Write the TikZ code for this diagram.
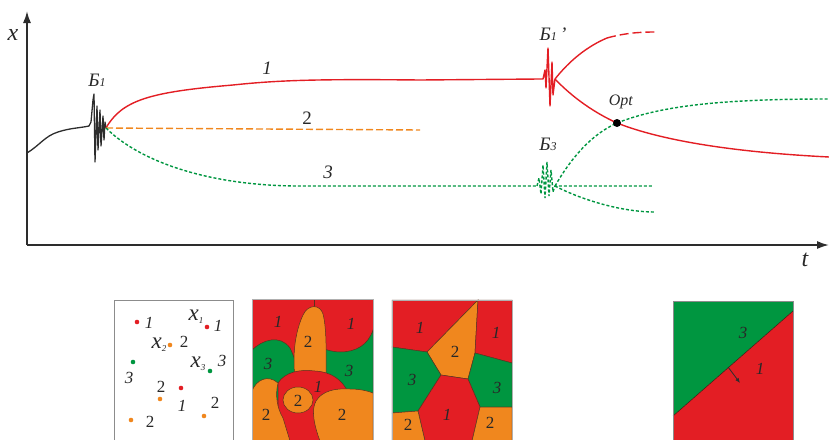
\documentclass[tikz,border=0pt]{standalone}
\usepackage{fontspec}
\setmainfont{Liberation Serif}
\usetikzlibrary{arrows.meta}
\definecolor{myred}{RGB}{227,30,36}
\definecolor{mygreen}{RGB}{0,150,64}
\definecolor{myorange}{RGB}{240,135,30}
\definecolor{axisgray}{RGB}{45,45,45}
\definecolor{txt}{RGB}{40,40,40}
\definecolor{frame}{RGB}{140,140,140}
\definecolor{edge}{RGB}{90,50,30}
\tikzset{
  axis/.style={line width=1.7pt, draw=axisgray, -{Latex[length=12pt,width=8pt]}},
  curveK/.style={draw=axisgray, line width=1.3pt, line join=round},
  curveR/.style={draw=myred, line width=1.4pt, line join=round},
  curveO/.style={draw=myorange, line width=1.4pt, dash pattern=on 7pt off 3pt},
  curveG/.style={draw=mygreen, line width=1.4pt, dash pattern=on 3pt off 2pt},
  lbl/.style={text=txt, inner sep=0pt, font=\fontsize{19}{19}\selectfont},
  plbl/.style={text=txt, inner sep=0pt, font=\fontsize{17}{17}\selectfont},
  panel/.style={draw=frame, line width=0.9pt},
  region/.style={draw=edge, line width=0.5pt},
}
\newcommand{\Bsub}[1]{\textit{Б}{\fontsize{12}{12}\selectfont\textit{#1}}}
\newcommand{\xsub}[1]{{\fontsize{23}{23}\selectfont\textit{x}}{\fontsize{9}{9}\selectfont\raisebox{-3pt}{\textit{#1}}}}
\begin{document}
\begin{tikzpicture}[x=1pt,y=-1pt]
\useasboundingbox (0,0) rectangle (829,439);
% ---------- graph ----------
\coordinate (O) at (27,245);
\coordinate (Ytip) at (27,11);
\coordinate (Xtip) at (829,245);
\draw[axis] (O) -- (Ytip);
\draw[axis] (O) -- (Xtip);
\node[lbl, font=\fontsize{24}{24}\selectfont\itshape] (xl) at (13,35) {x};
\node[lbl, font=\fontsize{24}{24}\selectfont\itshape] (tl) at (805,260) {t};

\coordinate (B1) at (106,128);
\coordinate (B1p) at (555,79);
\coordinate (B3) at (555,186);
\coordinate (Opt) at (617,123);

% black curve with spike
\draw[curveK] (27,153) .. controls (40,145) and (45,136) .. (58,132)
  .. controls (70,128) and (80,128) .. (89,126)
  -- (91,122) -- (93,100) -- (94,94) -- (95,162) -- (97,106) -- (98,150) -- (100,110) -- (101,146) -- (103,116) -- (104,140) -- (105,122) -- (B1);

% red 1
\draw[curveR] (B1) .. controls (122,100) and (150,92) .. (233,85)
  .. controls (280,80) and (320,79) .. (420,80) -- (540,79)
  -- (543,79) -- (545,70) -- (546,88) -- (548,48) -- (550,106) -- (552,62) -- (553,95) -- (B1p);
\draw[curveR] (B1p) .. controls (570,60) and (588,46) .. (607,38);
\draw[curveR, dash pattern=on 9pt off 4pt] (607,38) .. controls (625,33) and (640,32) .. (655,32);
\draw[curveR] (B1p) .. controls (573,98) and (595,113) .. (Opt)
  .. controls (660,140) and (730,152) .. (829,157);

% orange 2
\draw[curveO] (B1) -- (420,130);

% green 3
\draw[curveG] (B1) .. controls (140,162) and (210,186) .. (300,186) -- (537,186);
\draw[curveG] (537,186) -- (539,178) -- (541,194) -- (543,165) -- (545,198) -- (547,162) -- (549,196) -- (551,170) -- (553,192) -- (B3) -- (652,186);
\draw[curveG] (B3) .. controls (580,199) and (620,212) .. (655,212);
\draw[curveG] (B3) .. controls (570,160) and (590,135) .. (Opt)
  .. controls (660,106) and (720,99) .. (829,99);

\fill[black] (Opt) circle[radius=4pt];

\node[lbl] (l1) at (267,68) {\textit{1}};
\node[lbl] (l2) at (307,118) {2};
\node[lbl] (l3) at (328,172) {\textit{3}};
\node[lbl] (lb1) at (97,80) {\Bsub{1}};
\node[lbl] (lb1p) at (553,34) {\Bsub{1}\textit{\,’}};
\node[lbl] (lb3) at (548,144) {\Bsub{3}};
\node[lbl, font=\fontsize{16}{16}\selectfont] (lopt) at (621,102) {\textit{Opt}};

% ---------- panel 1 ----------
\draw[panel, fill=white] (114,300) rectangle (233,441);
\fill[myred] (137,322) circle[radius=2.3pt];
\node[plbl] (p1a) at (149,323) {\textit{1}};
\node[plbl] (p1x1) at (196,317) {\xsub{1}};
\fill[myred] (207,327) circle[radius=2.3pt];
\node[plbl] (p1b) at (218,326) {\textit{1}};
\node[plbl] (p1x2) at (159,345) {\xsub{2}};
\fill[myorange] (170,345) circle[radius=2.3pt];
\node[plbl] (p1c) at (184,342) {2};
\fill[mygreen] (133,362) circle[radius=2.3pt];
\node[plbl] (p1d) at (129,378) {\textit{3}};
\node[plbl] (p1x3) at (198,364) {\xsub{3}};
\fill[mygreen] (210,371) circle[radius=2.3pt];
\node[plbl] (p1e) at (222,361) {\textit{3}};
\node[plbl] (p1f) at (161,387) {2};
\fill[myred] (181,388) circle[radius=2.3pt];
\fill[myorange] (160,399) circle[radius=2.3pt];
\node[plbl] (p1g) at (182,406) {\textit{1}};
\node[plbl] (p1h) at (215,403) {2};
\fill[myorange] (204,416) circle[radius=2.3pt];
\fill[myorange] (131,420) circle[radius=2.3pt];
\node[plbl] (p1i) at (150,422) {2};

% ---------- panel 2 ----------
\begin{scope}
\clip (252,299) rectangle (373,441);
\fill[myred] (252,299) rectangle (373,441);
\draw[region] (314,299) -- (314,310);
% green left
\filldraw[region, fill=mygreen] (252,350) .. controls (262,340) and (280,334) .. (290,348)
  .. controls (295,358) and (298,370) .. (300,382) -- (285,400) -- (252,400) -- cycle;
% green right
\filldraw[region, fill=mygreen] (373,330) .. controls (368,345) and (356,352) .. (340,352)
  .. controls (333,352) and (328,350) .. (320,348) -- (320,405) -- (373,405) -- cycle;
% orange finger
\filldraw[region, fill=myorange] (295,378) .. controls (292,352) and (296,330) .. (303,315)
  .. controls (308,304) and (320,304) .. (323,314)
  .. controls (327,330) and (326,355) .. (326,378) -- cycle;
% red middle
\filldraw[region, fill=myred] (278,383) .. controls (285,372) and (300,369) .. (315,371)
  .. controls (332,372) and (342,380) .. (348,392) -- (348,441) -- (278,441) -- cycle;
% orange bottom-left
\filldraw[region, fill=myorange] (252,391) .. controls (256,380) and (268,374) .. (278,383)
  .. controls (275,395) and (277,408) .. (283,418) -- (290,441) -- (252,441) -- cycle;
% orange bottom-right
\filldraw[region, fill=myorange] (373,393) -- (373,441) -- (320,441)
  .. controls (314,425) and (311,410) .. (316,401)
  .. controls (322,391) and (335,388) .. (350,389)
  .. controls (360,389) and (368,391) .. (373,393) -- cycle;
% orange circle
\filldraw[region, fill=myorange] (298,400) ellipse[x radius=15pt, y radius=13pt];
\end{scope}
\draw[panel, draw=frame!70] (252,299) rectangle (373,441);
\node[plbl] (p2a) at (278,322) {\textit{1}};
\node[plbl] (p2b) at (351,324) {\textit{1}};
\node[plbl] (p2c) at (308,342) {2};
\node[plbl] (p2d) at (268,364) {\textit{3}};
\node[plbl] (p2e) at (349,371) {\textit{3}};
\node[plbl] (p2f) at (318,387) {\textit{1}};
\node[plbl] (p2g) at (298,401) {2};
\node[plbl] (p2h) at (266,415) {2};
\node[plbl] (p2i) at (342,415) {2};

% ---------- panel 3 ----------
\coordinate (A) at (478,300);
\coordinate (B) at (427,352);
\coordinate (C) at (441,375);
\coordinate (D) at (468,379);
\coordinate (E) at (475,353);
\coordinate (F) at (418,411);
\coordinate (G) at (480,407);
\coordinate (H) at (425,441);
\coordinate (I) at (472,441);
\filldraw[region, fill=myred] (392,300) -- (A) -- (B) -- (392,347) -- cycle;
\filldraw[region, fill=myorange] (A) -- (E) -- (D) -- (C) -- (B) -- cycle;
\filldraw[region, fill=myred] (A) -- (512,300) -- (512,363) -- (E) -- cycle;
\filldraw[region, fill=mygreen] (392,347) -- (B) -- (C) -- (F) -- (392,413) -- cycle;
\filldraw[region, fill=mygreen] (E) -- (512,363) -- (512,407) -- (G) -- (D) -- cycle;
\filldraw[region, fill=myred] (C) -- (D) -- (G) -- (I) -- (H) -- (F) -- cycle;
\filldraw[region, fill=myorange] (392,413) -- (F) -- (H) -- (392,441) -- cycle;
\filldraw[region, fill=myorange] (G) -- (512,407) -- (512,441) -- (I) -- cycle;
\draw[panel, draw=frame!70] (392,300) rectangle (512,441);
\node[plbl] (p3a) at (420,328) {\textit{1}};
\node[plbl] (p3b) at (455,352) {2};
\node[plbl] (p3c) at (496,333) {\textit{1}};
\node[plbl] (p3d) at (412,380) {\textit{3}};
\node[plbl] (p3e) at (497,388) {\textit{3}};
\node[plbl] (p3f) at (447,415) {\textit{1}};
\node[plbl] (p3g) at (408,425) {2};
\node[plbl] (p3h) at (490,423) {2};

% ---------- panel 4 ----------
\coordinate (dL) at (673,416);
\coordinate (dR) at (793,311);
\fill[mygreen] (673,301) -- (793,301) -- (dR) -- (dL) -- cycle;
\fill[myred] (dL) -- (dR) -- (793,441) -- (673,441) -- cycle;
\draw[draw=edge!60!black, line width=0.5pt] (dL) -- (dR);
\draw[panel] (673,301) rectangle (793,441);
\coordinate (arA) at (728,367);
\coordinate (arB) at (740,383);
\draw[draw=axisgray, line width=0.8pt, -{Latex[length=5pt,width=4pt]}] (arA) -- (arB);
\node[plbl] (p4a) at (743,333) {\textit{3}};
\node[plbl] (p4b) at (760,369) {\textit{1}};
\end{tikzpicture}
\end{document}
